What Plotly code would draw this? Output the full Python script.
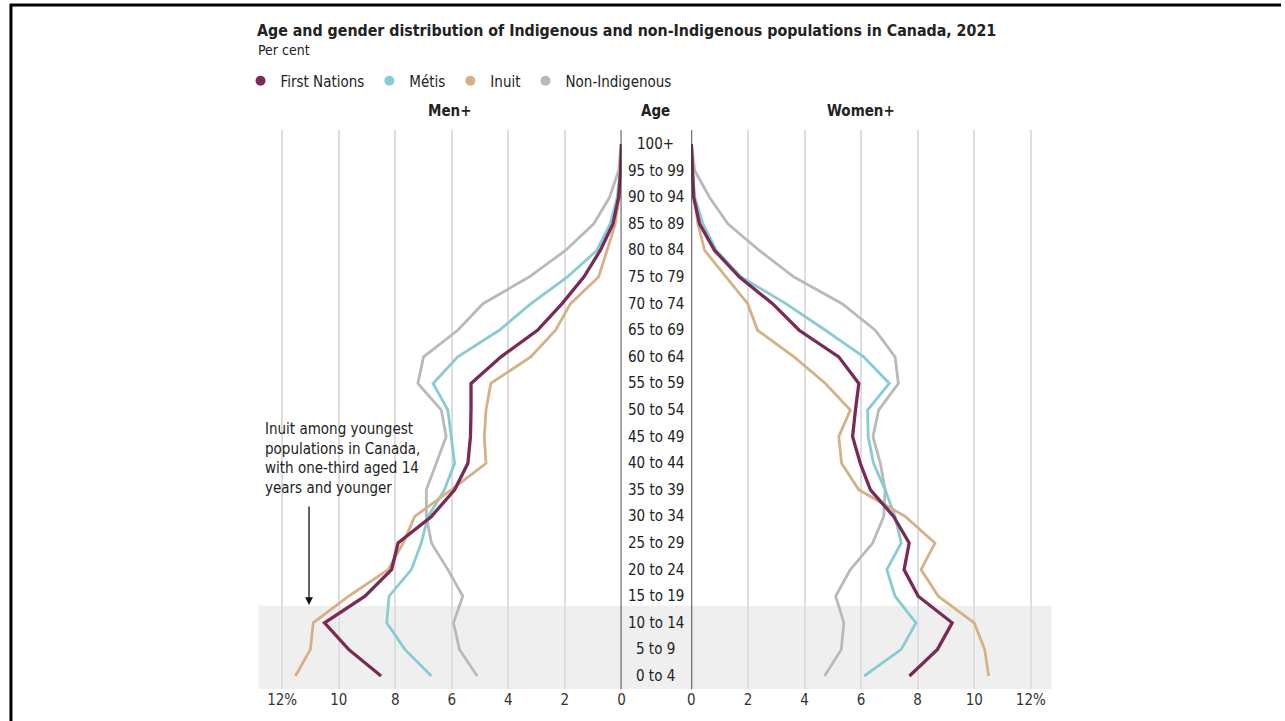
import plotly.graph_objects as go

ages = ["0 to 4", "5 to 9", "10 to 14", "15 to 19", "20 to 24", "25 to 29", "30 to 34",
        "35 to 39", "40 to 44", "45 to 49", "50 to 54", "55 to 59", "60 to 64", "65 to 69",
        "70 to 74", "75 to 79", "80 to 84", "85 to 89", "90 to 94", "95 to 99", "100+"]

series_names = ["First Nations", "Métis", "Inuit", "Non-Indigenous"]

men_first_nations = [8.5, 9.65, 10.5, 9.07, 8.13, 7.9, 6.72, 5.9, 5.43, 5.34, 5.32, 5.32, 4.26, 2.97, 2.1, 1.33, 0.75, 0.3, 0.1, 0.03, 0.0]
men_metis = [6.72, 7.66, 8.3, 8.22, 7.43, 7.08, 6.84, 6.26, 5.9, 6.02, 6.14, 6.66, 5.79, 4.32, 3.2, 1.92, 0.87, 0.4, 0.15, 0.04, 0.0]
men_inuit = [11.53, 11.0, 10.9, 9.65, 8.25, 7.72, 7.31, 6.02, 4.79, 4.85, 4.79, 4.62, 3.21, 2.33, 1.8, 0.81, 0.51, 0.22, 0.08, 0.02, 0.0]
men_non_indigenous = [5.1, 5.73, 5.94, 5.61, 6.14, 6.72, 6.9, 6.9, 6.55, 6.2, 6.37, 7.2, 7.0, 5.79, 4.9, 3.27, 1.98, 0.98, 0.42, 0.1, 0.01]

women_first_nations = [7.71, 8.7, 9.22, 8.02, 7.52, 7.7, 7.15, 6.33, 5.97, 5.7, 5.8, 5.92, 5.21, 3.81, 2.87, 1.7, 0.82, 0.29, 0.08, 0.03, 0.0]
women_metis = [6.11, 7.42, 7.94, 7.2, 6.91, 7.42, 7.2, 6.85, 6.44, 6.25, 6.23, 7.0, 6.09, 4.74, 3.34, 1.76, 0.88, 0.41, 0.12, 0.04, 0.0]
women_inuit = [10.51, 10.37, 10.0, 8.73, 8.12, 8.61, 7.56, 5.92, 5.31, 5.21, 5.62, 4.74, 3.63, 2.34, 1.99, 1.23, 0.47, 0.23, 0.1, 0.03, 0.0]
women_non_indigenous = [4.71, 5.3, 5.39, 5.1, 5.62, 6.41, 6.8, 6.85, 6.68, 6.42, 6.62, 7.32, 7.2, 6.5, 5.33, 3.63, 2.4, 1.29, 0.64, 0.12, 0.0]

tick_vals = [0, 2, 4, 6, 8, 10, 12]
tick_text = ["0", "2", "4", "6", "8", "10", "12%"]

colors = {"First Nations": "#7a2a56", "Métis": "#86cdd3", "Inuit": "#d5b185", "Non-Indigenous": "#b9b9b9"}
widths = {"First Nations": 3.3, "Métis": 2.8, "Inuit": 2.8, "Non-Indigenous": 2.8}

men = {"First Nations": men_first_nations, "Métis": men_metis, "Inuit": men_inuit, "Non-Indigenous": men_non_indigenous}
women = {"First Nations": women_first_nations, "Métis": women_metis, "Inuit": women_inuit, "Non-Indigenous": women_non_indigenous}

FONT = "DejaVu Sans Condensed, Roboto, sans-serif"
W, H = 1285, 721

fig = go.Figure()

draw_order = ["Non-Indigenous", "Métis", "Inuit", "First Nations"]
for name in draw_order:
    fig.add_trace(go.Scatter(x=men[name], y=ages, mode="lines", xaxis="x", yaxis="y",
                             line=dict(color=colors[name], width=widths[name]),
                             showlegend=False, name=name))
    fig.add_trace(go.Scatter(x=women[name], y=ages, mode="lines", xaxis="x2", yaxis="y",
                             line=dict(color=colors[name], width=widths[name]),
                             showlegend=False, name=name))

for name in series_names:
    fig.add_trace(go.Scatter(x=[None], y=[None], mode="markers", xaxis="x", yaxis="y",
                             marker=dict(color=colors[name], size=10), name=name, showlegend=True))

xl0, xl1 = 256 / W, 621.3 / W
xr0, xr1 = 691.7 / W, 1054 / W
yb, yt = (H - 689.3) / H, (H - 130) / H

axis_common = dict(tickvals=tick_vals, ticktext=tick_text, showgrid=True, gridcolor="#dedede",
                   gridwidth=1.5, zeroline=False, showline=False, ticks="",
                   tickfont=dict(family=FONT, size=15, color="#333333"), anchor="y", fixedrange=True)

fig.update_layout(
    width=W, height=H,
    margin=dict(l=0, r=0, t=0, b=0),
    paper_bgcolor="white", plot_bgcolor="rgba(0,0,0,0)",
    xaxis=dict(domain=[xl0, xl1], range=[12.84, 0], **axis_common),
    xaxis2=dict(domain=[xr0, xr1], range=[0, 12.73], **axis_common),
    yaxis=dict(domain=[yb, yt], type="category", categoryorder="array", categoryarray=ages,
               range=[-0.5, 20.53], showticklabels=False, showgrid=False, zeroline=False,
               ticks="", fixedrange=True),
    showlegend=True,
    legend=dict(orientation="h", x=238 / W, y=(H - 81) / H, xanchor="left", yanchor="middle",
                font=dict(family=FONT, size=15, color="#222222"), itemwidth=30,
                bgcolor="rgba(0,0,0,0)", tracegroupgap=0),
    title=dict(text="<b>Age and gender distribution of Indigenous and non-Indigenous populations in Canada, 2021</b>",
               x=257 / W, xanchor="left", y=(H - 30) / H, yanchor="middle",
               font=dict(family=FONT, size=15.8, color="#222222")),
)

shapes = []
shapes.append(dict(type="rect", xref="paper", yref="y", x0=256 / W, x1=1054 / W, y0=-0.5, y1=2.64,
                   fillcolor="#efefef", line=dict(width=0), layer="below"))
shapes.append(dict(type="line", xref="x", yref="y domain", x0=0, x1=0, y0=0, y1=1,
                   line=dict(color="#222222", width=1.6)))
shapes.append(dict(type="line", xref="x2", yref="y domain", x0=0, x1=0, y0=0, y1=1,
                   line=dict(color="#222222", width=1.6)))
shapes.append(dict(type="line", xref="paper", yref="paper", x0=6 / W, x1=1, y0=1 - 5 / H, y1=1 - 5 / H,
                   line=dict(color="#000000", width=3)))
shapes.append(dict(type="line", xref="paper", yref="paper", x0=7 / W, x1=7 / W, y0=0, y1=1 - 4 / H,
                   line=dict(color="#000000", width=3)))
fig.update_layout(shapes=shapes)

annotations = []
annotations.append(dict(text="Per cent", xref="paper", yref="paper", x=254 / W, y=(H - 50) / H,
                        xanchor="left", yanchor="middle", showarrow=False,
                        font=dict(family=FONT, size=14, color="#222222")))
for label, xc in [("Men+", 449), ("Age", 656), ("Women+", 862)]:
    annotations.append(dict(text="<b>" + label + "</b>", xref="paper", yref="paper", x=xc / W,
                            y=(H - 111) / H, xanchor="center", yanchor="middle", showarrow=False,
                            font=dict(family=FONT, size=15, color="#222222")))
for a in ages:
    annotations.append(dict(text=a, xref="paper", yref="y", x=656 / W, y=a, xanchor="center",
                            yanchor="middle", showarrow=False,
                            font=dict(family=FONT, size=15, color="#222222")))
annotations.append(dict(text="Inuit among youngest<br>populations in Canada,<br>with one-third aged 14<br>years and younger",
                        xref="paper", yref="paper", x=261 / W, y=(H - 459) / H, xanchor="left",
                        yanchor="middle", align="left", showarrow=False,
                        font=dict(family=FONT, size=15, color="#222222")))
annotations.append(dict(text="", xref="x", yref="y", x=11.05, y=2.67, axref="x", ayref="y",
                        ax=11.05, ay=6.43, showarrow=True, arrowhead=2, arrowsize=1.2,
                        arrowwidth=1.3, arrowcolor="#111111"))
fig.update_layout(annotations=annotations)

fig.write_html("out.html", config={"displayModeBar": False},
               post_script="document.body.style.margin='0';document.body.style.overflow='hidden';")
